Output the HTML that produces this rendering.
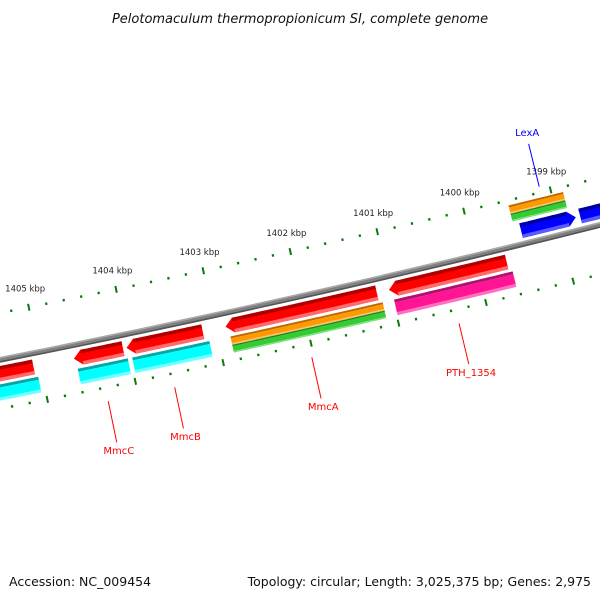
<!DOCTYPE html>
<html><head><meta charset="utf-8"><style>
html,body{margin:0;padding:0;background:#fff;}
svg{display:block;font-family:"DejaVu Sans","Liberation Sans",sans-serif;}
</style></head><body>
<svg id="map" width="600" height="600" viewBox="0 0 600 600" xmlns="http://www.w3.org/2000/svg">
<text x="300" y="23" text-anchor="middle" font-size="13" font-style="italic" fill="#111">Pelotomaculum thermopropionicum SI, complete genome</text>
<text x="9" y="586" font-size="12.5" fill="#111">Accession: NC_009454</text>
<text x="591" y="586" text-anchor="end" font-size="12.5" fill="#111">Topology: circular; Length: 3,025,375 bp; Genes: 2,975</text>
<g id="layer"></g>
</svg>
<script>
// data
const tickKbp = [1398, 1399, 1400, 1401, 1402, 1403, 1404, 1405, 1406];
const tickLabels = ["1398 kbp","1399 kbp","1400 kbp","1401 kbp","1402 kbp","1403 kbp","1404 kbp","1405 kbp","1406 kbp"];
const geneNames = ["gene-left","MmcC","MmcB","MmcA","PTH_1354","LexA","gene-right"];
const geneStart = [1405080, 1404060, 1403150, 1401160, 1399670, 1398800, 1397700];
const geneEnd   = [1405900, 1404620, 1404020, 1402890, 1401020, 1399430, 1398750];
const geneStrand = [-1, -1, -1, -1, -1, 1, 1];
const geneLabelShown = [false, true, true, true, true, true, false];
const featStart = [1405050, 1404030, 1403100, 1401120, 1399630, 1398870];
const featEnd   = [1405900, 1404600, 1403980, 1402860, 1400990, 1399500];
const featStrand = [-1, -1, -1, -1, -1, 1];
const featKind = ["cyan","cyan","cyan","orangegreen","pink","orangegreen"];

// geometry
const RB = 12000;
const CX = 300 - RB * 0.2193, CY = 297 - RB * 0.9757;
const DEG0 = 77.33, DEG_PER_KBP = 0.4273;
function ang(bp){ return (DEG0 + (bp - 1402000) / 1000 * DEG_PER_KBP) * Math.PI / 180; }
function pt(bp, r){ const a = ang(bp); return [CX + r * Math.cos(a), CY + r * Math.sin(a)]; }
const NS = "http://www.w3.org/2000/svg";
const layer = document.getElementById("layer");
function mk(tag, attrs){ const e = document.createElementNS(NS, tag); for (const k in attrs) e.setAttribute(k, attrs[k]); return e; }
function arcPts(a, b, r){ const out=[]; const n=20; for(let i=0;i<=n;i++){ out.push(pt(a+(b-a)*i/n, r)); } return out; }
function band(a, b, r1, r2, fill, name){
  const p = arcPts(a,b,r1).concat(arcPts(a,b,r2).reverse());
  const e = mk("polygon",{points:p.map(q=>q[0].toFixed(1)+","+q[1].toFixed(1)).join(" "),fill:fill});
  
  
  layer.appendChild(e); return e;
}
function arrow(a, b, r1, r2, strand, fill, name){
  const h = 90; let p;
  const rm = (r1+r2)/2;
  if (strand < 0){
    p = arcPts(a, b-h, r1).concat([pt(b, rm)]).concat(arcPts(a, b-h, r2).reverse());
  } else {
    p = arcPts(a+h, b, r1).concat(arcPts(a+h, b, r2).reverse()).concat([pt(a, rm)]);
  }
  const e = mk("polygon",{points:p.map(q=>q[0].toFixed(1)+","+q[1].toFixed(1)).join(" "),fill:fill});
  
  
  layer.appendChild(e); return e;
}

// backbone
[[RB-3,RB-1.5,"#a8a8a8"],[RB-1.5,RB+1,"#808080"],[RB+1,RB+2.8,"#555555"]].forEach(s=>band(1397000,1407500,s[0],s[1],s[2],"backbone"));

// ticks
function ticks(rBase, labels){
  for (let bp = 1397600; bp <= 1406400; bp += 200){
    const major = (bp % 1000) === 0;
    const len = major ? 7 : 2.5;
    const p1 = pt(bp, rBase - len/2), p2 = pt(bp, rBase + len/2);
    const t = mk("line",{x1:p1[0],y1:p1[1],x2:p2[0],y2:p2[1],stroke:"#0a7a0a","stroke-width":major?2:2.2});
    
    
    layer.appendChild(t);
  }
  if (labels){
    tickKbp.forEach((k,i)=>{
      const p = pt(k*1000, rBase - 18);
      const t = mk("text",{x:p[0].toFixed(1),y:(p[1]+2).toFixed(1),"text-anchor":"middle","font-size":"8.5",fill:"#222"});
      t.textContent = tickLabels[i];
      
      
      layer.appendChild(t);
    });
  }
}
ticks(RB-46, true);
ticks(RB+48, false);

// secondary features
featStart.forEach((s,i)=>{
  const e = featEnd[i], k = featKind[i];
  let r0 = featStrand[i] < 0 ? RB+24 : RB-41;
  if (k === "cyan"){
    band(s,e,r0,r0+3,"#00a8a8","cds-feature"); band(s,e,r0+3,r0+13,"#00ffff","cds-feature"); band(s,e,r0+13,r0+16,"#70ffff","cds-feature");
  } else if (k === "pink"){
    band(s,e,r0,r0+3,"#b01070","cds-feature"); band(s,e,r0+3,r0+13,"#ff1493","cds-feature"); band(s,e,r0+13,r0+16,"#ff70c0","cds-feature");
  } else {
    band(s,e,r0,r0+2,"#c06800","cds-feature"); band(s,e,r0+2,r0+7,"#ff9900","cds-feature"); band(s,e,r0+7,r0+8.5,"#ffc070","cds-feature");
    band(s,e,r0+8.5,r0+10,"#1a8a1a","cds-feature"); band(s,e,r0+10,r0+15,"#33cc33","cds-feature"); band(s,e,r0+15,r0+16.5,"#80e080","cds-feature");
  }
});

// genes
geneNames.forEach((n,i)=>{
  const s = geneStart[i], e = geneEnd[i], st = geneStrand[i];
  const r1 = st < 0 ? RB+6 : RB-21, r2 = r1 + 15;
  const main = st < 0 ? "#ff0000" : "#0000ff";
  const dark = st < 0 ? "#b00000" : "#0000a0";
  const light = st < 0 ? "#ff6a6a" : "#5a5aff";
  arrow(s,e,r1,r2,st,main,"gene-"+n.toLowerCase());
  const h=90;
  const a2 = st<0 ? s : s+h, b2 = st<0 ? e-h : e;
  band(a2,b2,r1,r1+3.5,dark,"gene-shade");
  band(a2,b2,r2-3.5,r2,light,"gene-shade");
  if (geneLabelShown[i]){
    const mid = (s+e)/2;
    const col = st < 0 ? "#ff0000" : "#0000ff";
    let p1, p2, lp;
    if (st < 0){ p1 = pt(mid, RB+62); p2 = pt(mid, RB+104); lp = pt(mid, RB+114); }
    else { p1 = pt(mid, RB-52); p2 = pt(mid, RB-96); lp = pt(mid, RB-102); }
    const l = mk("line",{x1:p1[0],y1:p1[1],x2:p2[0],y2:p2[1],stroke:col,"stroke-width":1});
    
    
    layer.appendChild(l);
    const t = mk("text",{x:lp[0].toFixed(1),y:(lp[1]+(st<0?2:-2)).toFixed(1),"text-anchor":"middle","font-size":"10",fill:col});
    t.textContent = n;
    
    
    layer.appendChild(t);
  }
});
</script>
</body></html>
